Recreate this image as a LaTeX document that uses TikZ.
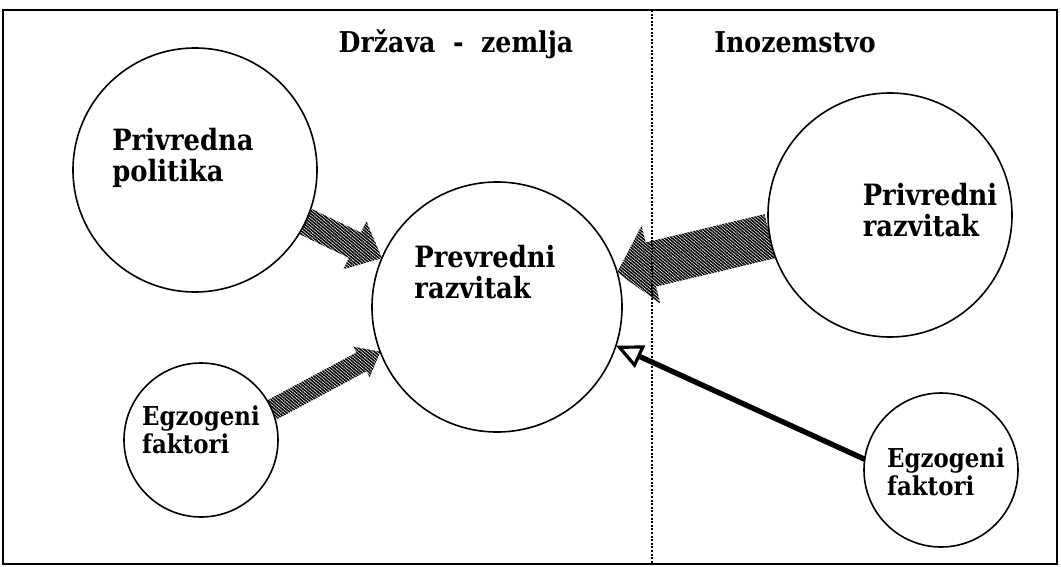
\documentclass[tikz,border=0pt]{standalone}
\usepackage{fontspec}
\newfontfamily\cfont[FakeStretch=0.88]{DejaVu Serif}
\usetikzlibrary{calc,arrows.meta,patterns.meta}
% hatched block arrow: #1 start, #2 tip, #3 body half width, #4 head half width, #5 head length
\newcommand\harrow[5]{%
  \coordinate (hH) at ($(#2)!#5!(#1)$);
  \fill[hatch] ($(#1)!#3!90:(#2)$) -- ($(hH)!#3!90:(#2)$) -- ($(hH)!#4!90:(#2)$) -- (#2)
    -- ($(hH)!#4!-90:(#2)$) -- ($(hH)!#3!-90:(#2)$) -- ($(#1)!#3!-90:(#2)$) -- cycle;
}
\begin{document}
\begin{tikzpicture}[x=0.75pt,y=-0.75pt,
  circ/.style={circle,draw,line width=1.2pt,minimum size=#1*1.5pt,inner sep=0pt,outer sep=0pt},
  lbl/.style={align=left,inner sep=0pt,font=\cfont\bfseries\fontsize{22}{23}\selectfont},
  slbl/.style={align=left,inner sep=0pt,font=\cfont\bfseries\fontsize{19.5}{21}\selectfont},
  hdr/.style={inner sep=0pt,anchor=base,font=\cfont\bfseries\fontsize{21.5}{24}\selectfont},
  hatch/.style={pattern={Lines[angle=-40,distance=1.8pt,line width=1.2pt]}},
  blk/.style={line width=4pt,-{Triangle[open,length=20pt,width=18pt,line width=2.4pt]}}]
\useasboundingbox (0,0) rectangle (1061,567);
\draw[line width=1.2pt] (3,10) rectangle (1057,564);
\draw[line width=0.8pt,dash pattern=on 1.5pt off 1.2pt] (652,10) -- (652,564);

\node[hdr] (h1) at (456,53) {Država ~-~ zemlja};
\node[hdr] (h2) at (795,53) {Inozemstvo};

\node[circ=122] (c1) at (195,170) {};
\node[circ=125] (c2) at (497,307) {};
\node[circ=122] (c3) at (890,215) {};
\node[circ=77]  (c4) at (201,440) {};
\node[circ=77]  (c5) at (941,470) {};

\node[lbl]  (t1) at (183,158) {Privredna\\politika};
\node[lbl]  (t2) at (485,272) {Prevredni\\razvitak};
\node[lbl]  (t3) at (930,210) {Privredni\\razvitak};
\node[slbl] (t4) at (201,430) {Egzogeni\\faktori};
\node[slbl] (t5) at (946,472) {Egzogeni\\faktori};

\coordinate (a1s) at (c1.-25);
\coordinate (a1e) at (c2.157);
\coordinate (a2s) at (c4.23);
\coordinate (a2e) at (c2.-159);
\coordinate (a3s) at (c3.190);
\coordinate (a3e) at (c2.16);

\harrow{a1s}{a1e}{10.5pt}{20pt}{22.5pt}
\harrow{a2s}{a2e}{8pt}{13pt}{16pt}
\harrow{a3s}{a3e}{17pt}{30pt}{26pt}

\draw[blk] (c5.172) -- (c2.-18);
\end{tikzpicture}
\end{document}
